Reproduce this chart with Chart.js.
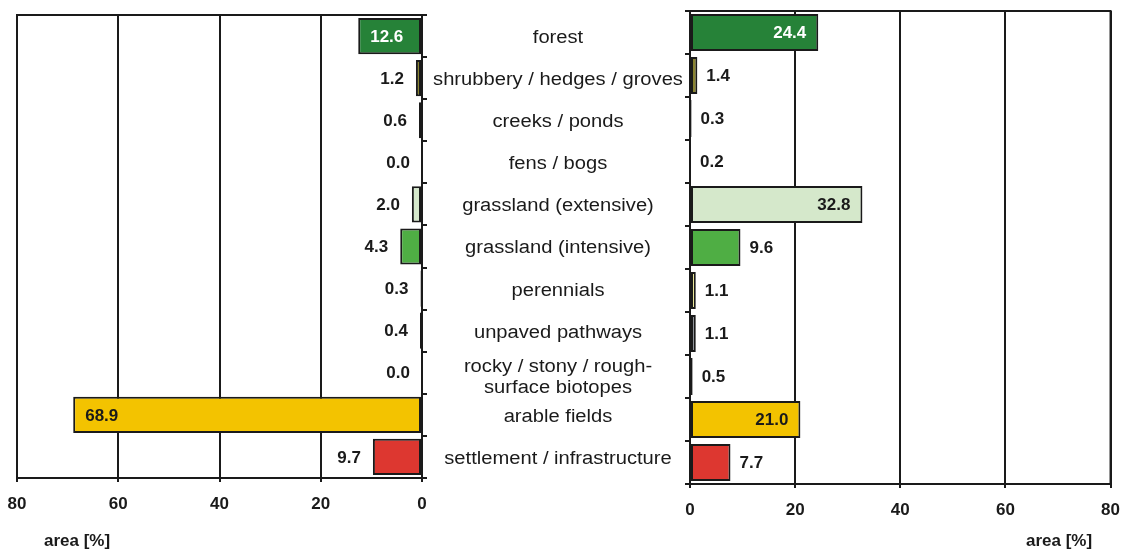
<!DOCTYPE html>
<html>
<head>
<meta charset="utf-8">
<script src="https://cdn.jsdelivr.net/npm/chart.js@4.4.1/dist/chart.umd.min.js"></script>
<style>
    html, body { margin: 0; padding: 0; background: #fff; }
    #wrap { position: relative; width: 1132px; height: 555px; }
    canvas { position: absolute; left: 0; top: 0; }
</style>
</head>
<body>
<div id="wrap">
    <canvas id="leftChart" width="1132" height="555"></canvas>
    <canvas id="rightChart" width="1132" height="555"></canvas>
</div>
<script>
// Data
const categories = [
    'forest',
    'shrubbery / hedges / groves',
    'creeks / ponds',
    'fens / bogs',
    'grassland (extensive)',
    'grassland (intensive)',
    'perennials',
    'unpaved pathways',
    ['rocky / stony / rough-', 'surface biotopes'],
    'arable fields',
    'settlement / infrastructure'
];
const areaLeft = [12.6, 1.2, 0.6, 0.0, 2.0, 4.3, 0.3, 0.4, 0.0, 68.9, 9.7];
const areaRight = [24.4, 1.4, 0.3, 0.2, 32.8, 9.6, 1.1, 1.1, 0.5, 21.0, 7.7];
const barColors = ['#268238', '#8a8431', '#2b4ba0', '#7fa7c9', '#d5e8cb', '#4fae44',
    '#f5f08c', '#80868c', '#a08a70', '#f3c300', '#dd3730'];
const xTicks = [0, 20, 40, 60, 80];
const axisTitle = 'area [%]';

const FONT = '"Liberation Sans", Arial, sans-serif';
const INK = '#1a1a1a';

// Frame on top of the plot area
const framePlugin = {
    id: 'frame',
    beforeDatasetsDraw(chart) {
        const a = chart.chartArea;
        const ctx = chart.ctx;
        ctx.save();
        ctx.strokeStyle = INK;
        ctx.lineWidth = 2;
        ctx.strokeRect(a.left, a.top, a.right - a.left, a.bottom - a.top);
        ctx.restore();
    }
};

// Value labels next to / inside the bars
const valuePlugin = {
    id: 'values',
    afterDatasetsDraw(chart, args, opts) {
        const ctx = chart.ctx;
        const meta = chart.getDatasetMeta(0);
        const values = chart.data.datasets[0].data;
        ctx.save();
        ctx.font = 'bold 17px ' + FONT;
        ctx.textBaseline = 'middle';
        meta.data.forEach((bar, i) => {
            const v = values[i];
            const txt = v.toFixed(1);
            const dir = opts.dir;
            if (v >= 12) {
                ctx.fillStyle = i === 0 ? '#ffffff' : INK;
                ctx.textAlign = dir > 0 ? 'right' : 'left';
                ctx.fillText(txt, bar.x - dir * 12, bar.y + 1);
            } else {
                ctx.fillStyle = INK;
                ctx.textAlign = dir > 0 ? 'left' : 'right';
                ctx.fillText(txt, bar.x + dir * opts.gap, bar.y + 1);
            }
        });
        ctx.restore();
    }
};

// Category names between the two panels and axis titles
const textPlugin = {
    id: 'texts',
    afterDraw(chart, args, opts) {
        const ctx = chart.ctx;
        ctx.save();
        ctx.fillStyle = INK;
        ctx.textAlign = 'center';
        ctx.textBaseline = 'middle';
        if (opts.categories) {
            const y = chart.scales.y;
            ctx.font = '18px ' + FONT;
            categories.forEach((c, i) => {
                const cy = y.getPixelForValue(i) + 2;
                const lines = Array.isArray(c) ? [[c[0], cy - 8], [c[1], cy + 13]] : [[c, cy]];
                lines.forEach(([t, ly]) => {
                    ctx.save();
                    ctx.translate(558, ly);
                    ctx.scale(1.12, 1);
                    ctx.fillText(t, 0, 0);
                    ctx.restore();
                });
            });
        }
        ctx.font = 'bold 17px ' + FONT;
        ctx.fillText(axisTitle, opts.titleX, 541);
        ctx.restore();
    }
};

function makeChart(id, values, side) {
    const left = side === 'left';
    return new Chart(document.getElementById(id), {
        type: 'bar',
        data: {
            labels: categories,
            datasets: [{
                data: values,
                backgroundColor: barColors,
                borderColor: INK,
                borderWidth: 2,
                borderSkipped: false,
                barPercentage: 0.86,
                categoryPercentage: 1
            }]
        },
        options: {
            indexAxis: 'y',
            responsive: false,
            animation: false,
            layout: {
                padding: left
                    ? { left: 17, right: 1132 - 422 - 6, top: 15, bottom: 0 }
                    : { left: 684, right: 20, top: 11, bottom: 0 }
            },
            plugins: {
                legend: { display: false },
                tooltip: { enabled: false },
                values: { dir: left ? -1 : 1, gap: left ? 12 : 9 },
                texts: { categories: left, titleX: left ? 77 : 1059 }
            },
            scales: {
                x: {
                    min: 0,
                    max: 80,
                    reverse: left,
                    afterBuildTicks: s => { s.ticks = xTicks.map(v => ({ value: v })); },
                    afterFit: s => { s.height = left ? 555 - 478 : 555 - 484; },
                    grid: { color: INK, lineWidth: 2, tickLength: 4, tickColor: INK },
                    border: { display: true, color: INK, width: 2 },
                    ticks: {
                        color: INK,
                        padding: 12,
                        font: { family: FONT, size: 17, weight: 'bold' }
                    }
                },
                y: {
                    position: left ? 'right' : 'left',
                    afterFit: s => { s.width = 6; },
                    grid: {
                        drawOnChartArea: false,
                        drawTicks: true,
                        tickLength: 5,
                        color: INK,
                        lineWidth: 2,
                        offset: true
                    },
                    border: { display: true, color: INK, width: 2 },
                    ticks: { display: false }
                }
            }
        },
        plugins: [framePlugin, valuePlugin, textPlugin]
    });
}

makeChart('leftChart', areaLeft, 'left');
makeChart('rightChart', areaRight, 'right');
</script>
</body>
</html>
